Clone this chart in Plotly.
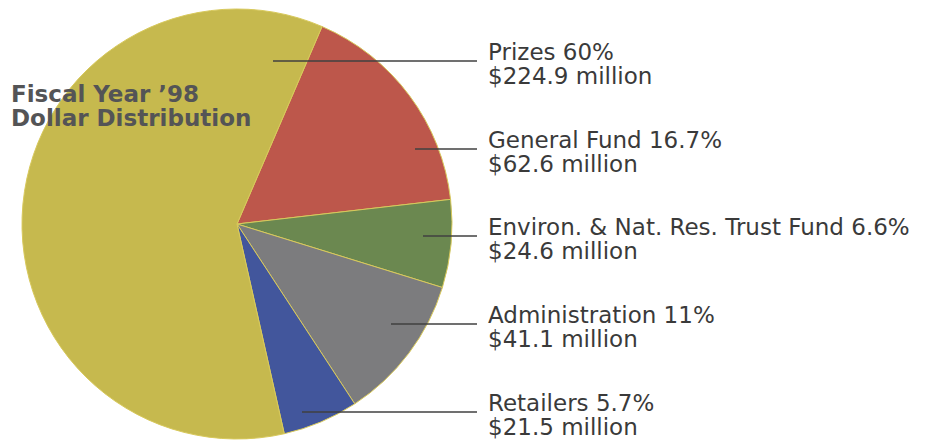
import plotly.graph_objects as go

# Data (clockwise starting from the Prizes/General Fund boundary)
labels = ["General Fund", "Environ. & Nat. Res. Trust Fund", "Administration", "Retailers", "Prizes"]
percents = [16.7, 6.6, 11.0, 5.7, 60.0]
pct_text = ["16.7%", "6.6%", "11%", "5.7%", "60%"]
dollars = ["$62.6 million", "$24.6 million", "$41.1 million", "$21.5 million", "$224.9 million"]
colors = ["#bd574b", "#6b8850", "#7c7c7e", "#42569c", "#c6b94e"]
title_lines = ["Fiscal Year ’98", "Dollar Distribution"]

# Layout for labels (pixel positions in a 939x443 page)
W, H = 939, 443
label_order = [4, 0, 1, 2, 3]          # top to bottom on the right
line_y_px = [61, 149, 236, 324, 412]
line_x0_px = [273, 415, 423, 391, 302]
line_x1_px = 477
text_x_px = 486
label_font = dict(family="DejaVu Sans, sans-serif", size=23, color="#3a3a3a")
title_font = dict(family="DejaVu Sans, sans-serif", size=23, color="#545456")

fig = go.Figure()
fig.add_trace(go.Pie(
    labels=labels,
    values=percents,
    sort=False,
    direction="clockwise",
    rotation=23.3,
    marker=dict(colors=colors, line=dict(color="#d8c95c", width=1)),
    textinfo="none",
    hoverinfo="label+percent",
    showlegend=False,
    domain=dict(x=[22 / W, 452 / W], y=[1 - 439 / H, 1 - 9 / H]),
))

shapes = []
annotations = []


def ann(text, x_px, y_center_px, font):
    return dict(xref="paper", yref="paper", x=x_px / W, y=1 - y_center_px / H,
                xanchor="left", yanchor="middle", align="left", showarrow=False,
                text=text, font=font, borderpad=0)


for k, idx in enumerate(label_order):
    ly = line_y_px[k]
    y = 1 - ly / H
    shapes.append(dict(type="line", xref="paper", yref="paper",
                       x0=line_x0_px[k] / W, x1=line_x1_px / W, y0=y, y1=y,
                       line=dict(color="#404040", width=1.3)))
    annotations.append(ann(f"{labels[idx]} {pct_text[idx]}", text_x_px + 1, ly - 9, label_font))
    annotations.append(ann(dollars[idx], text_x_px + 1, ly + 15, label_font))

annotations.append(ann(f"<b>{title_lines[0]}</b>", 10, 94, title_font))
annotations.append(ann(f"<b>{title_lines[1]}</b>", 10, 118, title_font))

fig.update_layout(
    width=W, height=H,
    margin=dict(l=0, r=0, t=0, b=0),
    paper_bgcolor="white", plot_bgcolor="white",
    shapes=shapes, annotations=annotations,
)

fig.write_html("out.html", config={"displayModeBar": False},
               post_script="document.body.style.margin='0';")
